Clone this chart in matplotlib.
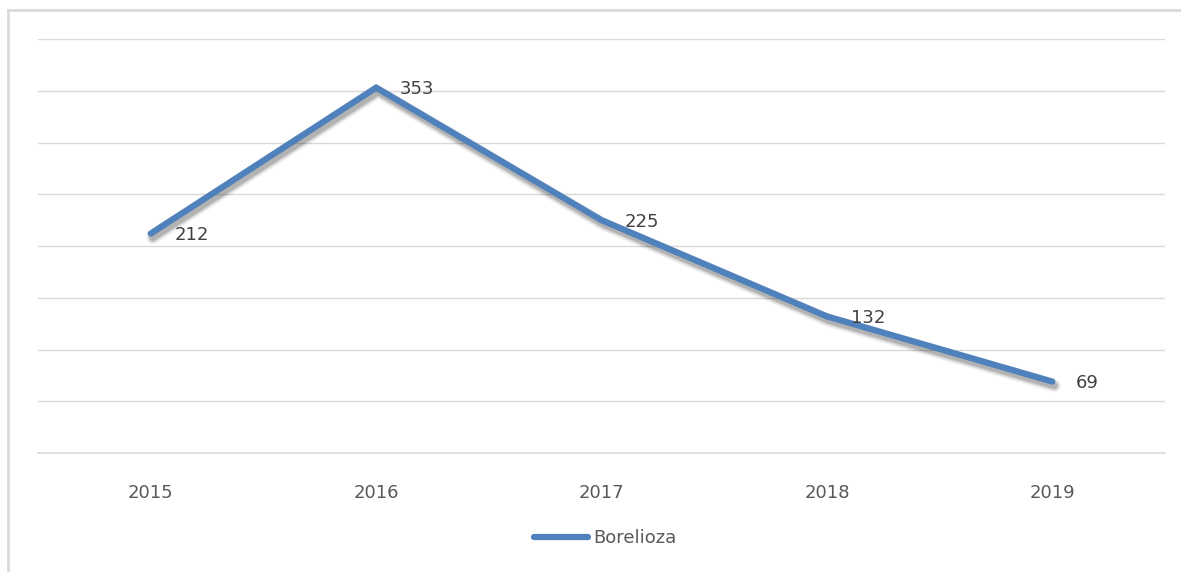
import numpy as np
import matplotlib.pyplot as plt
import matplotlib.patheffects as pe
from matplotlib.lines import Line2D

# data
years = ["2015", "2016", "2017", "2018", "2019"]
cases = [212, 353, 225, 132, 69]
series_name = "Borelioza"

LINE_COLOR = "#4F81BD"
TEXT_COLOR = "#595959"
GRID_COLOR = "#D9D9D9"

plt.rcParams["font.family"] = ["DejaVu Sans"]

fig = plt.figure(figsize=(11.81, 5.72), dpi=100)
ax = fig.add_axes([38 / 1181, 1 - 453 / 572, (1165 - 38) / 1181, (453 - 39) / 572])

# soft blurred shadow: a few stacked, faint offset copies
shadow = []
for lw_extra, a in [(5, 0.05), (3, 0.07), (1.5, 0.09), (0, 0.12)]:
    shadow.append(
        pe.SimpleLineShadow(
            offset=(1.5, -3), shadow_color="black", alpha=a, linewidth=4.5 + lw_extra
        )
    )

x = np.arange(len(years))
ax.plot(
    x,
    cases,
    color=LINE_COLOR,
    linewidth=4.5,
    solid_capstyle="round",
    solid_joinstyle="miter",
    path_effects=shadow + [pe.Normal()],
    zorder=3,
)

for xi, v in zip(x, cases):
    ax.annotate(
        str(v),
        (xi, v),
        xytext=(17, -1),
        textcoords="offset points",
        ha="left",
        va="center",
        fontsize=13,
        color="#404040",
        zorder=4,
    )

ax.set_xlim(-0.5, len(years) - 0.5)
ax.set_ylim(0, 400)
ax.set_yticks(np.arange(50, 401, 50))
ax.yaxis.grid(True, color=GRID_COLOR, linewidth=1)
ax.set_axisbelow(True)
ax.tick_params(axis="y", left=False, labelleft=False)
ax.set_xticks(x)
ax.set_xticklabels(years, fontsize=13, color=TEXT_COLOR)
ax.tick_params(axis="x", length=0, pad=22)

for side in ["top", "right", "left"]:
    ax.spines[side].set_visible(False)
ax.spines["bottom"].set_color(GRID_COLOR)
ax.spines["bottom"].set_linewidth(1.2)

handle = Line2D([], [], color=LINE_COLOR, linewidth=4.5, solid_capstyle="round")
fig.legend(
    [handle],
    [series_name],
    loc="center",
    bbox_to_anchor=(605 / 1181, 1 - 538 / 572),
    frameon=False,
    fontsize=13,
    labelcolor=TEXT_COLOR,
    handlelength=3.0,
    handletextpad=0.3,
)

# outer chart border (top and left visible in the reference)
fig.add_artist(Line2D([8 / 1181, 8 / 1181], [0, 1 - 10 / 572], color="#D9D9D9", linewidth=2))
fig.add_artist(Line2D([8 / 1181, 1], [1 - 10 / 572, 1 - 10 / 572], color="#D9D9D9", linewidth=2))

fig.savefig("out.png", dpi=100, facecolor="white")
